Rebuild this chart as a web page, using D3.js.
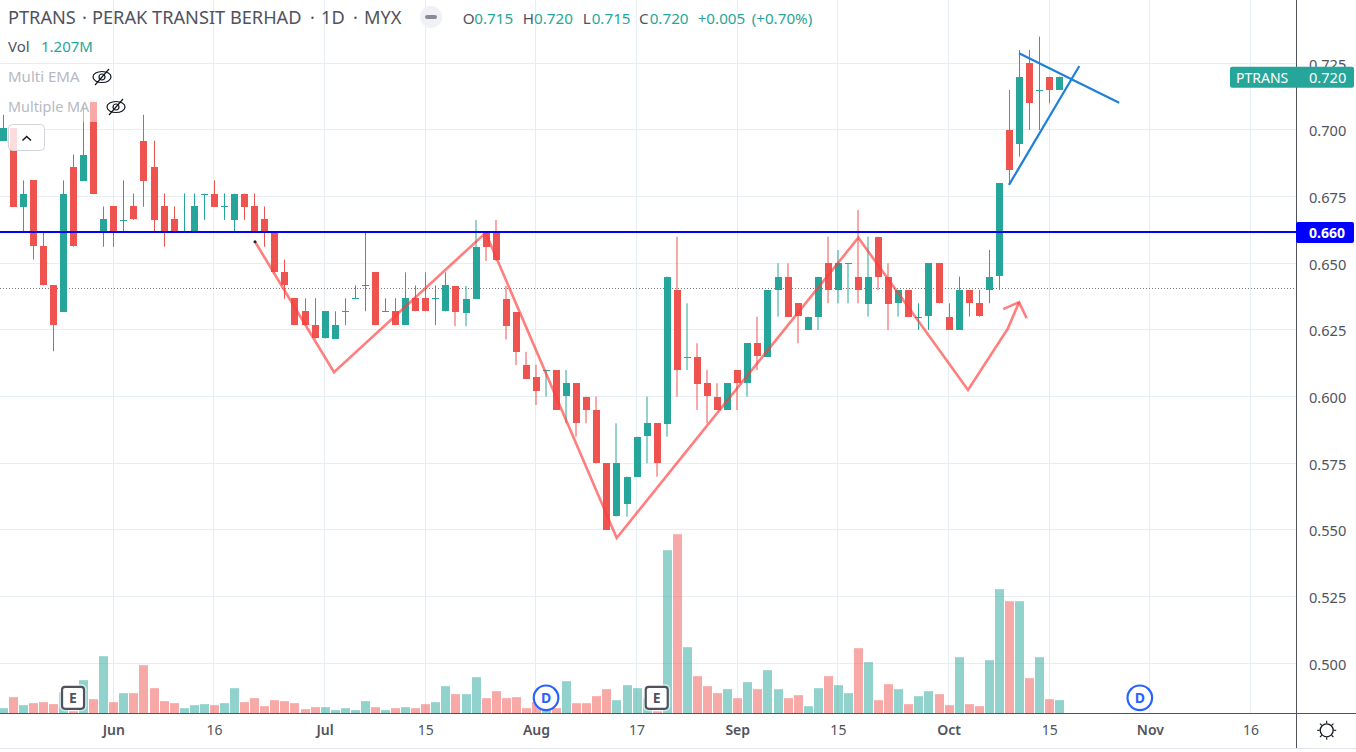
<!DOCTYPE html>
<html>
<head>
<meta charset="utf-8">
<script src="https://cdn.jsdelivr.net/npm/d3@7"></script>
<style>
html,body{margin:0;padding:0;background:#fff;overflow:hidden}
svg{display:block}
text{font-family:"Noto Sans",sans-serif}
</style>
</head>
<body>
<svg id="chart"></svg>
<script>
// daily candles (before the Aug dividend prices are adjusted)
var opens=[.6958,.7007,.6712,.6811,.6565,.6417,.632,.686,.6809,.7105,.6616,.6713,.6663,.6713,.696,.686,.6713,.6666,.6616,.6616,.6761,.6761,.6713,.6663,.6761,.6713,.6666,.6616,.6466,.6369,.632,.6268,.6218,.6218,.632,.6369,.6417,.6466,.632,.632,.6268,.6369,.6369,.6369,.632,.6415,.6316,.6366,.6612,.6612,.6367,.6317,.612,.6072,.61,.61,.6,.605,.6,.595,.575,.555,.56,.57,.585,.59,.59,.64,.615,.615,.605,.6,.595,.61,.605,.62,.615,.64,.645,.635,.625,.63,.65,.64,.65,.645,.635,.66,.645,.635,.64,.63,.63,.65,.63,.625,.64,.635,.64,.645,.7,.695,.725,.715,.72,.715];
var highs=[.7057,.7007,.6811,.6811,.6616,.6417,.6811,.6908,.7095,.7105,.6713,.6713,.6811,.6762,.7057,.696,.6762,.6713,.6762,.6762,.6761,.6811,.6762,.6761,.6761,.6762,.6713,.6616,.6514,.6369,.6369,.6369,.632,.632,.6369,.6417,.6616,.6466,.6369,.6369,.6466,.6417,.6466,.6417,.6466,.6415,.6415,.6662,.6612,.6662,.6415,.6317,.6168,.612,.61,.61,.61,.605,.6,.6,.575,.59,.57,.585,.6,.59,.645,.66,.635,.62,.61,.605,.605,.61,.62,.63,.64,.65,.65,.635,.63,.645,.66,.655,.65,.67,.66,.66,.65,.64,.64,.635,.65,.65,.635,.645,.64,.64,.655,.68,.715,.73,.73,.735,.72,.72];
var lows=[.6958,.6712,.6616,.6514,.6417,.617,.632,.6562,.6809,.6759,.6562,.6562,.6616,.6663,.6712,.6616,.6562,.6616,.6616,.6616,.6663,.6712,.6663,.6616,.6663,.6616,.6562,.6466,.6367,.6268,.6268,.6218,.6218,.6218,.6268,.6369,.632,.6268,.632,.6268,.6268,.632,.632,.6268,.632,.6264,.6264,.6366,.6509,.6509,.6214,.6118,.6068,.5969,.6,.595,.59,.585,.59,.575,.55,.555,.555,.57,.575,.57,.585,.6,.61,.595,.59,.595,.595,.595,.6,.61,.615,.63,.63,.62,.625,.625,.635,.635,.635,.635,.63,.64,.625,.63,.63,.625,.625,.635,.625,.625,.63,.63,.635,.64,.68,.69,.7,.7,.71,.715];
var closes=[.7007,.6712,.6761,.6562,.6417,.6268,.6761,.6562,.6908,.6759,.6666,.6616,.6663,.6663,.6809,.6663,.6616,.6616,.6616,.6713,.6761,.6712,.6713,.6761,.6712,.6616,.6616,.6466,.6417,.6268,.6268,.6218,.632,.627,.632,.6369,.6417,.6268,.632,.6268,.6369,.632,.632,.6369,.6417,.6316,.6367,.6561,.6558,.6509,.6264,.6167,.6068,.6021,.61,.595,.605,.59,.595,.575,.55,.575,.57,.585,.59,.575,.645,.61,.615,.605,.6,.595,.605,.605,.62,.615,.64,.645,.63,.63,.63,.645,.64,.65,.65,.64,.645,.645,.635,.64,.63,.63,.65,.635,.625,.64,.635,.63,.645,.68,.685,.72,.71,.715,.715,.72];
var volumes=[.48,1.47,.75,.93,1.02,.84,1.92,.24,3,1.29,5.16,1.02,1.83,1.83,4.35,2.28,1.11,.93,.48,.75,.84,.75,.93,2.28,1.02,1.38,.66,1.2,1.11,.93,.39,.57,.57,.3,.48,.3,1.11,.57,.3,.48,.57,.48,.84,1.02,2.46,1.74,1.74,3.27,1.38,2.01,1.38,1.47,.48,1.02,.3,.48,2.91,.93,.93,1.56,2.19,1.2,2.55,2.28,1.35,.21,14.7,16.14,5.97,3.36,2.46,1.83,2.19,1.38,2.82,2.19,3.9,2.19,1.38,1.65,.66,2.28,3.36,2.55,1.83,5.88,4.62,1.2,2.64,2.19,.84,1.56,2.01,1.74,.75,5.07,.84,.66,4.8,11.19,10.11,10.11,3.18,5.07,1.29,1.207];

var priceTicks=[.725,.7,.675,.65,.625,.6,.575,.55,.525,.5];
var timeTickIndex=[11,21,32,42,53,63,73,83,94,104,114,124];
var timeTickLabels=["Jun","16","Jul","15","Aug","17","Sep","15","Oct","15","Nov","16"];
var monthLabels=["Jun","Jul","Aug","Sep","Oct","Nov"];

// drawings, [bar index, price]
var patternLine=[[25.08,.6581],[32.93,.6092],[48,.6614],[61.02,.547],[85.03,.6596],[95.93,.6025],[99.9,.6256],[101,.6354]];
var arrowHead=[[99.43,.6328],[101,.6354],[101.76,.6294]];
var wedgeUpper=[[101,.72875],[110.95,.7102]];
var wedgeLower=[[100,.6794],[106.99,.724]];
var firstPoint=[25.08,.6581];
var levelPrice=.6614, levelLabel="0.660";
var dottedPrice=.6406;
var lastPrice=.72, lastLabel="0.720";
var earnings=[7,65];
var dividends=[54,113];

var W=1356,H=752,paneR=1296,paneB=713.5;
var upCol="#26a69a",downCol="#ef5350",txt="#50535e",gridCol="#e6edf3",axisCol="#50535e";

var svg=d3.select("#chart").attr("width",W).attr("height",H);

var x=d3.scaleLinear().domain([0,124]).range([2.6,1250.5]);
var y=d3.scaleLinear().domain([.5,.725]).range([663.3,63.3]);
var yVol=d3.scaleLinear().domain([0,12]).range([paneB,paneB-133.3]);

// snap to the pixel grid so thin lines stay sharp
function sx(v){return Math.floor(x(v))+.5}
function sy(v){return Math.floor(y(v))+.5}
function barX(i){return Math.round(x(i))+.5}

var candles=opens.map(function(o,i){
   return {i:i,o:o,h:highs[i],l:lows[i],c:closes[i],v:volumes[i],up:closes[i]>=o};
});

svg.append("defs").append("clipPath").attr("id","pane").append("rect")
   .attr("x",0).attr("y",0).attr("width",paneR).attr("height",paneB);

var pane=svg.append("g").attr("clip-path","url(#pane)");

// grid
pane.selectAll(".gh").data(priceTicks).enter().append("line")
   .attr("x1",0).attr("x2",paneR)
   .attr("y1",function(d){return sy(d)}).attr("y2",function(d){return sy(d)})
   .attr("stroke",gridCol).attr("stroke-width",1);
pane.selectAll(".gv").data(timeTickIndex).enter().append("line")
   .attr("x1",function(d){return sx(d)}).attr("x2",function(d){return sx(d)})
   .attr("y1",0).attr("y2",paneB)
   .attr("stroke",gridCol).attr("stroke-width",1);

// volume
pane.selectAll(".vol").data(candles).enter().append("rect")
   .attr("x",function(d){return barX(d.i)-4.5})
   .attr("width",9)
   .attr("y",function(d){return yVol(d.v)})
   .attr("height",function(d){return paneB-yVol(d.v)})
   .attr("fill",function(d){return d.up?upCol:downCol})
   .attr("fill-opacity",.5);

// dotted line
pane.append("line")
   .attr("x1",0).attr("x2",paneR)
   .attr("y1",sy(dottedPrice)).attr("y2",sy(dottedPrice))
   .attr("stroke","#777").attr("stroke-width",1).attr("stroke-dasharray","1 2");

// candles, the wicks in the middle stretch of the screenshot are softer
function wickX(d){return d.i>=45&&d.i<=89?Math.round(x(d.i)):barX(d.i)}
pane.selectAll(".wick").data(candles).enter().append("line")
   .attr("x1",wickX).attr("x2",wickX)
   .attr("y1",function(d){return y(d.h)}).attr("y2",function(d){return y(d.l)})
   .attr("stroke",function(d){return d.up?upCol:downCol})
   .attr("stroke-width",1);
pane.selectAll(".body").data(candles).enter().append("rect")
   .attr("x",function(d){return barX(d.i)-3.5})
   .attr("width",7)
   .attr("y",function(d){return Math.round(y(Math.max(d.o,d.c)))})
   .attr("height",function(d){return Math.max(1,Math.round(Math.abs(y(d.o)-y(d.c))))})
   .attr("fill",function(d){return d.up?upCol:downCol});

// drawings
var line=d3.line().x(function(d){return x(d[0])}).y(function(d){return y(d[1])});
[patternLine,arrowHead].forEach(function(p){
   pane.append("path").attr("d",line(p)).attr("fill","none")
      .attr("stroke","#ff3b3b").attr("stroke-opacity",.65).attr("stroke-width",2.6);
});
[wedgeUpper,wedgeLower].forEach(function(p){
   pane.append("path").attr("d",line(p)).attr("fill","none")
      .attr("stroke","#1e80d8").attr("stroke-width",2.2);
});
pane.append("circle").attr("cx",x(firstPoint[0])).attr("cy",y(firstPoint[1])).attr("r",1.5).attr("fill","#222");

var levelY=Math.floor(y(levelPrice));
pane.append("line")
   .attr("x1",0).attr("x2",paneR)
   .attr("y1",levelY).attr("y2",levelY)
   .attr("stroke","#0000ff").attr("stroke-width",2);

// earnings and dividend badges
var badgeY=697.8;
earnings.forEach(function(i){
   var g=svg.append("g").attr("transform","translate("+x(i)+","+badgeY+")");
   g.append("rect").attr("x",-13.5).attr("y",-13.5).attr("width",27).attr("height",27).attr("rx",5)
      .attr("fill","#fff").attr("fill-opacity",.6);
   g.append("rect").attr("x",-11).attr("y",-11).attr("width",22).attr("height",22).attr("rx",3)
      .attr("fill","#fff").attr("stroke","#50535e").attr("stroke-width",2.2);
   g.append("text").attr("text-anchor","middle").attr("y",5).attr("font-size",14).attr("font-weight",700)
      .attr("fill","#50535e").text("E");
});
dividends.forEach(function(i){
   var g=svg.append("g").attr("transform","translate("+x(i)+","+badgeY+")");
   g.append("circle").attr("r",12.3).attr("fill","#fff").attr("stroke","#2962ff").attr("stroke-width",2.2);
   g.append("text").attr("text-anchor","middle").attr("y",5).attr("font-size",14).attr("font-weight",700)
      .attr("fill","#2962ff").text("D");
});

// legend
function label(tx,ty,s,col,size,weight){
   return svg.append("text").attr("x",tx).attr("y",ty).attr("fill",col)
      .attr("font-size",size||14).attr("font-weight",weight||400).text(s);
}
svg.append("rect").attr("x",4).attr("y",94).attr("width",130).attr("height",28)
   .attr("fill","#fff").attr("fill-opacity",.5);

label(8,24,"PTRANS",txt,18.2);
label(82,24,"·",txt,18.2);
label(92,24,"PERAK TRANSIT BERHAD",txt,18.2);
label(310,24,"·",txt,18.2);
label(321,24,"1D",txt,18.2);
label(353,24,"·",txt,18.2);
label(364,24,"MYX",txt,18.2);

svg.append("circle").attr("cx",431).attr("cy",17).attr("r",11).attr("fill","#f0f1f4");
svg.append("rect").attr("x",425).attr("y",15).attr("width",12).attr("height",4).attr("rx",2).attr("fill","#8a8c95");

var ohlcLabels=[["O",462.7,txt],["0.715",474.3,upCol],["H",522.7,txt],["0.720",534,upCol],["L",582.7,txt],["0.715",591.7,upCol],["C",639,txt],["0.720",649.7,upCol],["+0.005",697.7,upCol],["(+0.70%)",751.7,upCol]];
ohlcLabels.forEach(function(d){ label(d[1],24,d[0],d[2],15.2); });

label(8,52,"Vol",txt,15);
label(41,52,"1.207M",upCol,15);
label(8,82,"Multi EMA","#b7b9c3",15);
label(8,112,"Multiple MA","#b7b9c3",14.4);

function eye(cx,cy){
   var g=svg.append("g").attr("transform","translate("+cx+","+cy+")")
      .attr("fill","none").attr("stroke","#131722").attr("stroke-width",1.2);
   g.append("ellipse").attr("rx",9).attr("ry",5.5);
   g.append("circle").attr("r",3);
   g.append("line").attr("x1",-7).attr("y1",8).attr("x2",7).attr("y2",-8);
}
eye(102,77);
eye(116,107);

// collapse button
svg.append("rect").attr("x",8.5).attr("y",124.5).attr("width",36).attr("height",26).attr("rx",4)
   .attr("fill","#fff").attr("fill-opacity",.8).attr("stroke","#d1d4dc");
svg.append("path").attr("d","M22.5 140.5L26.7 136.5L31 140.5").attr("fill","none").attr("stroke","#131722").attr("stroke-width",1.5);

// price axis
var yAxis=d3.axisRight(y).tickValues(priceTicks).tickSize(0).tickPadding(13)
   .tickFormat(d3.format(".3f"));
var gy=svg.append("g").attr("transform","translate("+paneR+",0)").call(yAxis);
gy.select(".domain").remove();
gy.selectAll("text").attr("font-size",14.6).attr("fill",txt).attr("font-family",'"Noto Sans",sans-serif').attr("dy","0.4em");

// time axis
var xAxis=d3.axisBottom(x).tickValues(timeTickIndex).tickSize(0).tickPadding(12)
   .tickFormat(function(d,i){return timeTickLabels[i]});
var gx=svg.append("g").attr("transform","translate(0,"+paneB+")").call(xAxis);
gx.select(".domain").remove();
gx.selectAll("text").attr("font-size",14).attr("fill",txt).attr("font-family",'"Noto Sans",sans-serif')
   .attr("font-weight",function(d,i){return monthLabels.indexOf(timeTickLabels[i])>=0?600:400});

// axis frame
svg.append("line").attr("x1",0).attr("x2",W).attr("y1",paneB).attr("y2",paneB).attr("stroke",axisCol);
svg.append("line").attr("x1",paneR+.5).attr("x2",paneR+.5).attr("y1",0).attr("y2",748).attr("stroke",axisCol);
svg.append("line").attr("x1",0).attr("x2",W).attr("y1",748.5).attr("y2",748.5).attr("stroke","#e0e3eb");

// price tags
var lastY=y(lastPrice);
svg.append("rect").attr("x",1230).attr("y",lastY-10).attr("width",124).attr("height",21).attr("rx",2).attr("fill",upCol);
label(1236,lastY+6,"PTRANS","#fff",14);
label(1309,lastY+6,lastLabel,"#fff",14.6);

svg.append("rect").attr("x",paneR).attr("y",levelY-10).attr("width",58).attr("height",21).attr("rx",2).attr("fill","#0000ff");
label(1309,levelY+6,levelLabel,"#fff",14,700);

// sun button
var sun=svg.append("g").attr("transform","translate(1326.7,730.3)");
sun.append("circle").attr("r",6.5).attr("fill","none").attr("stroke","#131722").attr("stroke-width",1.3);
d3.range(8).forEach(function(k){
   var a=k*Math.PI/4;
   sun.append("line").attr("x1",7*Math.cos(a)).attr("y1",7*Math.sin(a))
      .attr("x2",9.5*Math.cos(a)).attr("y2",9.5*Math.sin(a))
      .attr("stroke","#131722").attr("stroke-width",1.1);
});
</script>
</body>
</html>
